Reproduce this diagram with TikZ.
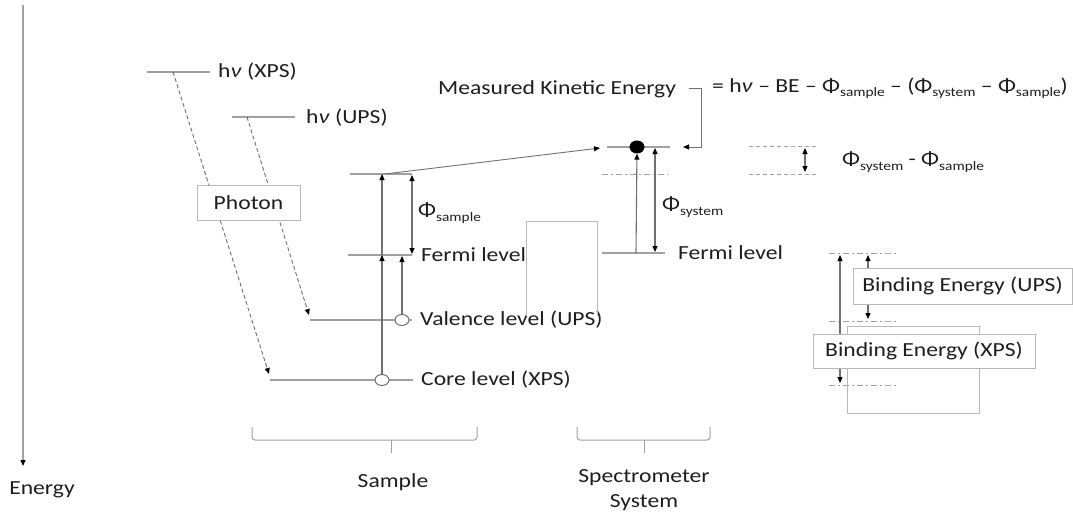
\documentclass[tikz,border=0pt]{standalone}
\usepackage{fontspec}
\setmainfont{Carlito}[FakeStretch=1.18]
\usetikzlibrary{arrows.meta, positioning, shapes.geometric}
\definecolor{cline}{HTML}{A0A0A0}
\definecolor{carrow}{HTML}{707070}
\definecolor{cbox}{HTML}{B8B8B8}
\definecolor{ctext}{HTML}{1E1E1E}
\tikzset{
  every picture/.style={x=1pt, y=-1pt, font=\fontsize{20}{25}\selectfont, text=ctext},
  lvl/.style={draw=cline, line width=1.7pt},
  guide/.style={draw=cline, line width=0.9pt, dash pattern=on 4pt off 3pt},
  tip/.style={-{Triangle[length=6pt, width=5pt, color=black]}},
  uparr/.style={tip, draw=carrow, line width=1.1pt},
  dbl/.style={draw=carrow, line width=1.1pt, {Triangle[length=6pt, width=5pt, color=black]}-{Triangle[length=6pt, width=5pt, color=black]}},
  beam/.style={tip, draw=carrow, line width=0.9pt, dash pattern=on 4pt off 2.5pt},
  lbl/.style={anchor=west, inner sep=0pt},
  box/.style={draw=cbox, fill=white, line width=1pt, inner sep=0pt},
  hole/.style={ellipse, draw=carrow, fill=white, line width=1pt, minimum width=14pt, minimum height=11pt, inner sep=0pt},
  ball/.style={ellipse, fill=black, minimum width=15pt, minimum height=13pt, inner sep=0pt},
}
\newcommand{\phisub}[1]{Φ\raisebox{-0.22em}{\fontsize{13}{13}\selectfont #1}}

\begin{document}
\begin{tikzpicture}
  \useasboundingbox (0,0) rectangle (1073,516);
  % energy axis
  \coordinate (etop) at (23,5);
  \coordinate (ebot) at (23,466);
  \draw[tip, draw=cline, line width=1.3pt] (etop) -- (ebot);
  \node[inner sep=0pt] (energy) at (42,490) {Energy};

  % photon energies
  \draw[lvl] (147,72) -- (210,72);
  \node[lbl] (hvx) at (218,72) {h\textit{ν} (XPS)};
  \draw[lvl] (232,117) -- (295,117);
  \node[lbl] (hvu) at (306,118) {h\textit{ν} (UPS)};
  \coordinate (xs) at (173,72);  \coordinate (xe) at (269,374);
  \coordinate (us) at (247,117); \coordinate (ue) at (309,315);
  \draw[beam] (xs) -- (xe);
  \draw[beam] (us) -- (ue);
  \node[box, minimum width=103pt, minimum height=35pt] (photon) at (248.5,202.5) {Photon};

  % sample levels
  \draw[lvl] (350,174) -- (412,174);
  \draw[lvl] (348,255) -- (412,255);
  \node[lbl] (fermis) at (421,255) {Fermi level};
  \draw[lvl] (310,320) -- (412,320);
  \node[lbl] (valence) at (420,320) {Valence level (UPS)};
  \draw[lvl] (270,380) -- (413,380);
  \node[lbl] (corelab) at (421,380) {Core level (XPS)};
  \node[hole] (val) at (402,320) {};
  \node[hole] (core) at (382,380) {};
  \coordinate (cf) at (382,255); \coordinate (cv) at (382,174);
  \coordinate (vf) at (402,256);
  \draw[uparr] (core) -- (cf);
  \draw[uparr] (cf) -- (cv);
  \draw[uparr] (val) -- (vf);
  \coordinate (ps1) at (412,175); \coordinate (ps2) at (412,254);
  \draw[dbl] (ps1) -- (ps2);
  \node[lbl] (phis) at (418,213) {\phisub{sample}};
  \draw[draw=cbox, line width=1pt] (526,316) |- (597,221) -- (597,316);

  % spectrometer levels
  \coordinate (es) at (385,174); \coordinate (ee) at (600,148);
  \draw[tip, draw=carrow, line width=0.9pt] (es) -- (ee);
  \draw[lvl] (607,147) -- (670,147);
  \draw[guide, dash pattern=on 6pt off 3pt on 2pt off 3pt] (602,174) -- (668,174);
  \draw[lvl] (602,253) -- (665,253);
  \node[lbl] (fermisys) at (678,253) {Fermi level};
  \node[ball] (elec) at (637,147) {};
  \coordinate (sf) at (636,253);
  \coordinate (py1) at (655,148); \coordinate (py2) at (655,252);
  \draw[uparr] (sf) -- (elec);
  \draw[dbl] (py1) -- (py2);
  \node[lbl] (phiy) at (662,207) {\phisub{system}};

  % kinetic energy
  \node[lbl] (meas) at (438,89) {Measured Kinetic Energy};
  \node[lbl] (eq) at (712,88) {= h\textit{ν} – BE – \phisub{sample} – (\phisub{system} – \phisub{sample})};
  \coordinate (kin) at (683,147);
  \draw[tip, draw=carrow, line width=1pt] ([xshift=13pt]meas.east) -- ++(12,0) |- (kin);

  % work function difference
  \draw[guide] (749,146) -- (817,146);
  \draw[guide] (749,174) -- (817,174);
  \coordinate (pd1) at (805,148); \coordinate (pd2) at (805,172);
  \draw[dbl] (pd1) -- (pd2);
  \node[lbl] (phid) at (842,162) {\phisub{system} - \phisub{sample}};

  % binding energies
  \foreach \y in {253,321,385} \draw[guide, dash pattern=on 6pt off 3pt on 2pt off 3pt] (829,\y) -- (897,\y);
  \coordinate (bx1) at (840,255); \coordinate (bx2) at (840,383);
  \coordinate (bu1) at (868,255); \coordinate (bu2) at (868,319);
  \draw[dbl] (bx1) -- (bx2);
  \draw[dbl] (bu1) -- (bu2);
  \node[box, minimum width=219pt, minimum height=36pt] (beu) at (962.5,286) {Binding Energy (UPS)};
  \draw[draw=cbox, line width=1pt] (847,326) rectangle (979,413);
  \node[box, minimum width=222pt, minimum height=34pt] (bex) at (924,351) {Binding Energy (XPS)};

  % braces
  \draw[draw=cline, line width=1pt, rounded corners=3pt] (252,427) |- (477,440) -- (477,427);
  \draw[draw=cline, line width=1pt] (391,440) -- (391,453);
  \node[inner sep=0pt] (sample) at (393,482) {Sample};
  \draw[draw=cline, line width=1pt, rounded corners=3pt] (577,427) |- (710,440) -- (710,427);
  \draw[draw=cline, line width=1pt] (644,440) -- (644,453);
  \node[align=center, inner sep=0pt] (spec) at (644,490) {Spectrometer\\System};
\end{tikzpicture}
\end{document}
